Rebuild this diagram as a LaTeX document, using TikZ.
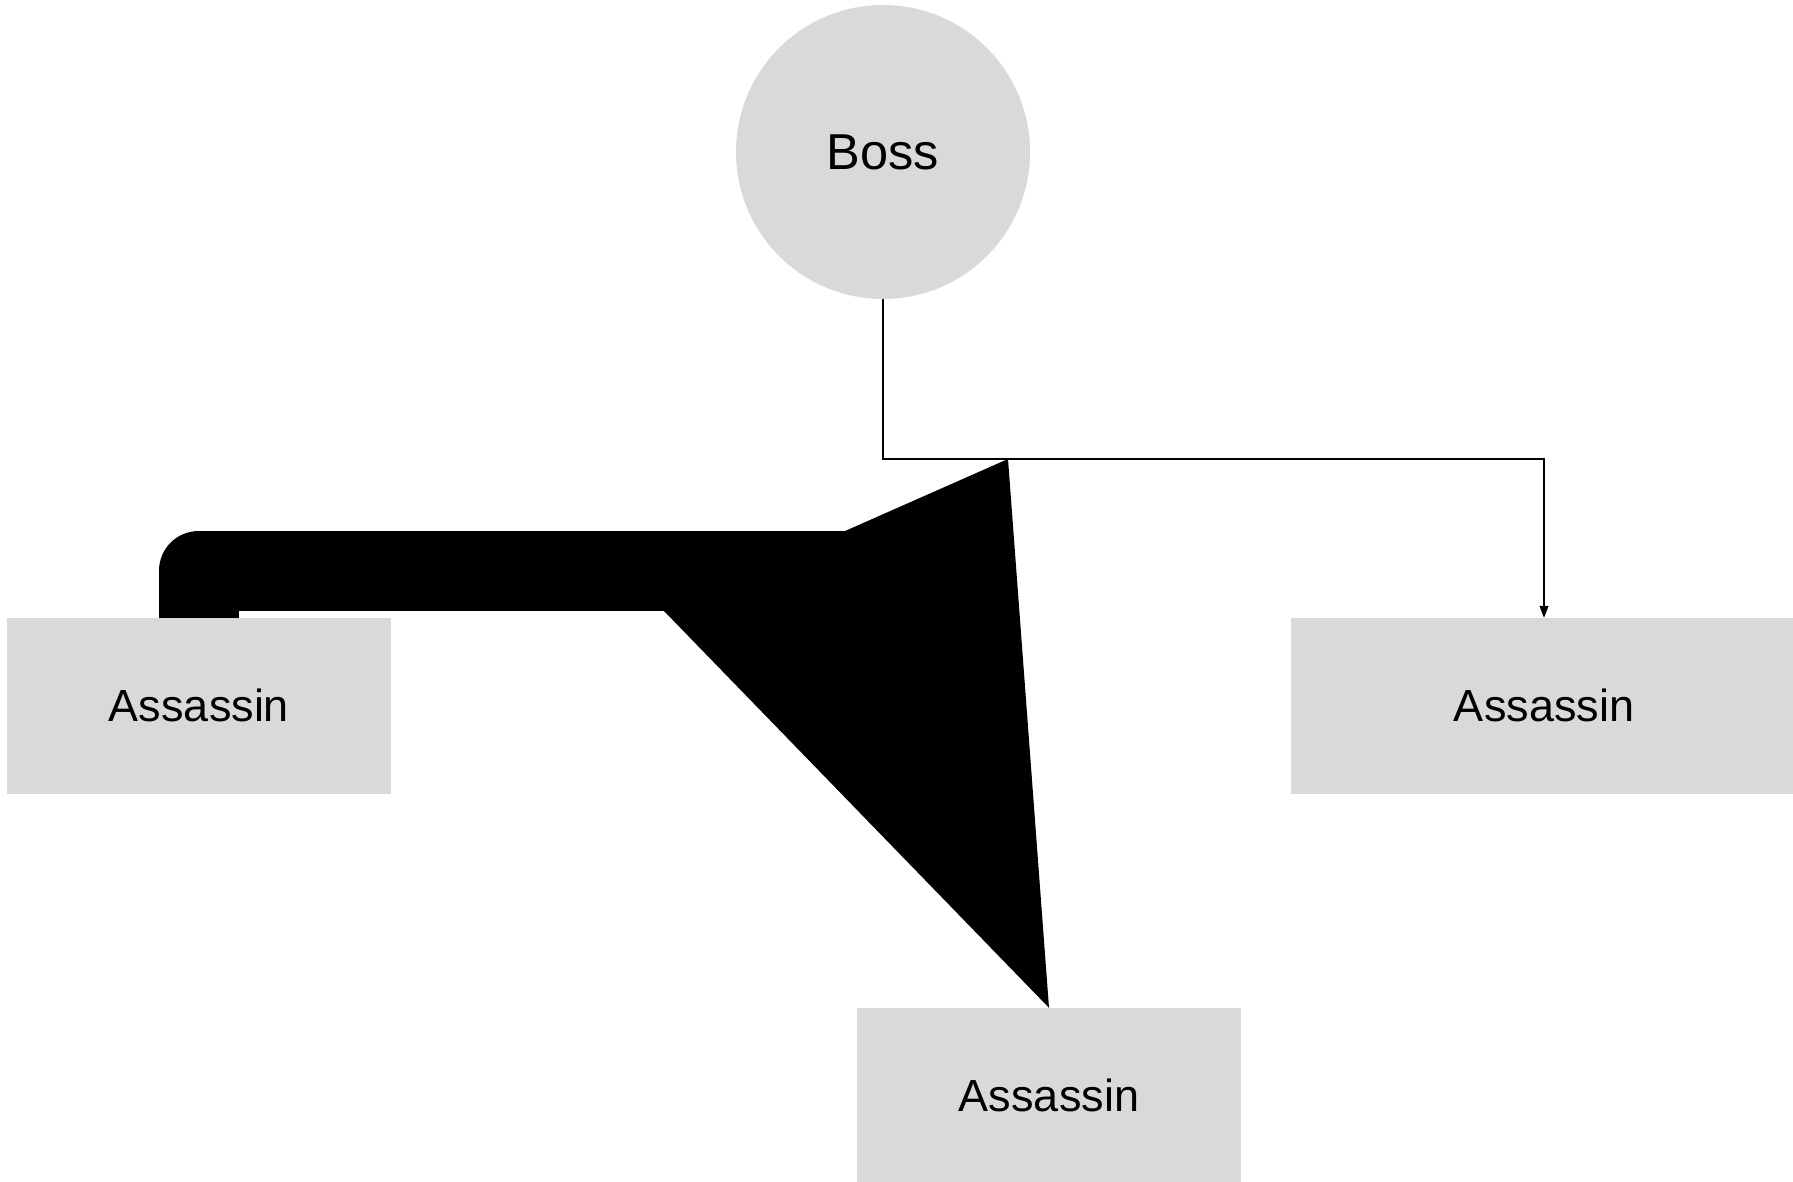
\documentclass[tikz,border=0pt]{standalone}
\usepackage{fontspec}
\setmainfont{Liberation Sans}
\usetikzlibrary{arrows.meta}
\definecolor{boxgray}{RGB}{217,217,217}
\tikzset{
  assassinbox/.style={rectangle, fill=boxgray, draw=none, minimum width=384pt, minimum height=176pt, inner sep=0pt, font=\fontsize{45}{54}\selectfont},
  bossnode/.style={circle, fill=boxgray, draw=none, minimum size=294pt, inner sep=0pt, font=\fontsize{50.5}{60}\selectfont},
  thinlink/.style={line width=1.3pt, -{Triangle[length=12pt,width=9pt]}},
  heavylink/.style={line width=80pt, line join=round, line cap=butt},
}
\begin{document}
\begin{tikzpicture}[x=1pt,y=-1pt]
\clip (0,0) rectangle (1793,1182);
\useasboundingbox (0,0) rectangle (1793,1182);
\fill[white] (0,0) rectangle (1793,1182);
\node[bossnode] (boss) at (883,152) {Boss};
\node[assassinbox] (l) at (199,706) {\raisebox{1pt}{Assassin}};
\node[assassinbox, minimum width=506pt] (r) at (1544,706) {\raisebox{1pt}{Assassin}};
\node[assassinbox] (b) at (1049,1096) {\raisebox{1pt}{Assassin}};
\coordinate (bend) at (0,459);
\coordinate (apex) at (1008,459);
\coordinate (lcorner) at (199,570.5);
\coordinate (bandend) at (900,570.5);
\coordinate (lowleft) at (664,611);
% thin connector Boss -> right assassin
\draw[thinlink] (boss.south) -- (boss.south |- bend) -- (r.north |- bend) -- (r.north);
% heavy connector
\draw[heavylink] (l.north) -- (lcorner) -- (bandend);
\fill[black] (apex) -- (b.north) -- (lowleft) -- cycle;
\end{tikzpicture}
\end{document}
